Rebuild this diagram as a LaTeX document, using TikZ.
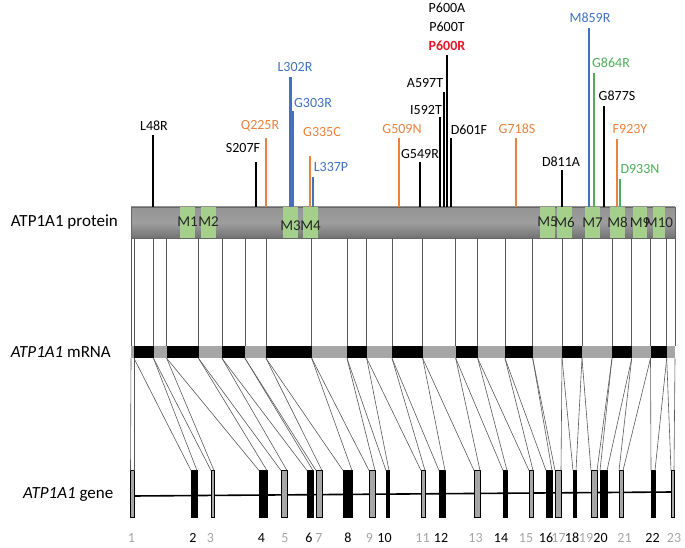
\documentclass[tikz,border=0pt]{standalone}
\usepackage{fontspec}
\setmainfont{Carlito}
\usetikzlibrary{positioning}
\definecolor{mutorange}{HTML}{E8823C}
\definecolor{mutblue}{HTML}{3F72C0}
\definecolor{mutgreen}{HTML}{4FAE5A}
\definecolor{mutred}{HTML}{E3182D}
\definecolor{tmgreen}{HTML}{A5D08C}
\definecolor{exgray}{HTML}{A6A6A6}
\tikzset{
  rowlab/.style={font=\fontsize{17}{20}\selectfont, inner sep=0pt},
  mutlab/.style={font=\fontsize{14}{16}\selectfont, inner sep=1pt},
  tmlab/.style={font=\fontsize{15}{17}\selectfont, inner sep=0pt, text=black!85},
  exnum/.style={font=\fontsize{14}{16}\selectfont, inner sep=0pt},
  maplink/.style={black!65, line width=0.6pt},
  exonbox/.style={draw=black, line width=0.5pt, inner sep=0pt, outer sep=0pt, minimum height=47pt},
  intron/.style={line width=1.6pt},
}
\begin{document}
\begin{tikzpicture}[x=1pt, y=-1pt]
    \useasboundingbox (0,0) rectangle (685,548);

    \node[draw=black!60, line width=0.5pt, top color=black!42, bottom color=black!55, middle color=black!38,
          minimum width=544pt, minimum height=31pt, inner sep=0pt, outer sep=0pt] (prot) at (403,222.5) {};
    \foreach \tl/\tr/\ty [count=\k] in {180/195/222, 201/216/222, 283/298/225.5, 303/318/225.5, 540/555/222,
                                         557/572/222, 585/600/222.5, 610/625/222.5, 633/647/222.5, 653/665/222.5} {
        \fill[tmgreen] (\tl,207.5) rectangle (\tr,237.5);
        \node[tmlab] (tm\k) at ({(\tl+\tr)/2},\ty) {M\k};
    }
    \node[rowlab, left=13pt of prot] (protlab) {ATP1A1 protein};

    \foreach \mx/\mt/\mc/\mw/\lx/\ly/\mtxt [count=\k] in {
        153/135/black/2/154/126/L48R, 256/162/black/2/243/148/S207F, 266/138/mutorange/2/260/126/Q225R,
        290/77/mutblue/3/295/67/L302R, 292/111/mutblue/3/313/103/G303R, 310/156/mutorange/2/322/132/G335C,
        313/177/mutblue/2/331/167/L337P, 399/138/mutorange/2/402/129/G509N, 420/162/black/2/420/154/G549R,
        440/117/black/2/426/110/I592T, 444/92/black/2/425/83/A597T,
        447/55/black/2/447/46/{\textbf{\textcolor{mutred}{P600R}}},
        451/138/black/2/469/130/D601F, 516/138/mutorange/2/517/129/G718S, 562/170/black/2/561/162/D811A,
        589/28/mutblue/1.5/590/18/M859R, 594/73/mutgreen/2/611/63/G864R, 604/106/black/2/617/96/G877S,
        617/139/mutorange/2/630/129/F923Y, 620/179/mutgreen/2/640/169/D933N} {
        \draw[line width=\mw pt, \mc] (\mx,207) -- (\mx,\mt);
        \node[mutlab, text=\mc] (mut\k) at (\lx,\ly) {\mtxt};
    }
    \node[mutlab, above=7pt of mut12] (mut12t) {P600T};
    \node[mutlab, above=7pt of mut12t] (mut12a) {P600A};

    \node[fill=exgray, minimum width=544pt, minimum height=12.6pt, inner sep=0pt, outer sep=0pt] (mrna) at (403,352) {};
    \node[rowlab, left=20pt of mrna] (mrnalab) {\textit{ATP1A1} mRNA};
    \foreach \bx [count=\k from 0] in {131,134,153.5,166.7,198.5,222,245,266,311.7,347,366.7,392,422.7,
                                       455.7,477.7,505,532.7,562,582,612,631.7,650.5,666.7,675} {
        \coordinate (pb\k) at (\bx,238);
        \coordinate (mt\k) at (\bx,345.7);
        \coordinate (mb\k) at (\bx,358.3);
    }
    \foreach \i [evaluate=\i as \j using int(\i-1)] in {2,4,...,22}
        \fill (mt\j) rectangle (mb\i);
    \foreach \k in {0,...,23}
        \draw[maplink] (pb\k) -- (mt\k);

    \coordinate (g0) at (133,496);
    \coordinate (g1) at (672,492);
    \draw[intron] (g0) -- (g1);
    \foreach \el/\er/\ef/\nx [count=\i] in {130.5/134/exgray/131.5, 191/197/black/193, 211/214/exgray/210.5,
        259/267/black/261.5, 281/287/exgray/285, 307/313/black/309, 316/322/exgray/319, 343/352/black/348,
        369/375/exgray/369.5, 386/389/black/384.5, 421/425/exgray/422.5, 439/445/black/441,
        474/480/exgray/475.5, 503/507/black/501, 529/533/exgray/526, 546/552/black/546,
        555/561/exgray/558.5, 573/576/black/572, 591/597/exgray/586, 600/607/black/600.5,
        619/623/exgray/624.5, 651/655/black/652.5, 671/674/exgray/674} {
        \node[exonbox, fill=\ef, minimum width={(\er-\el)*1pt}] (e\i) at ({(\el+\er)/2},494) {};
        \node[exnum, text=\ef] (n\i) at (\nx,538) {\i};
    }
    \node[rowlab, left=17pt of e1] (genelab) {\textit{ATP1A1} gene};
    \foreach \i [evaluate=\i as \j using int(\i-1)] in {1,...,23} {
        \draw[maplink] (mb\j) -- (e\i.north west);
        \draw[maplink] (mb\i) -- (e\i.north east);
    }
\end{tikzpicture}
\end{document}
